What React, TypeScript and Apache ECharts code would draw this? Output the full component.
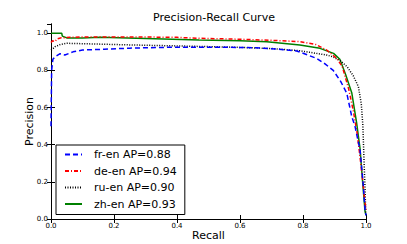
import React, { useEffect, useRef } from "react";
import * as echarts from "echarts";

const xTicks = [0, 0.2, 0.4, 0.6, 0.8, 1.0];
const yTicks = [0, 0.2, 0.4, 0.6, 0.8, 1.0];

const seriesNames = ["fr-en AP=0.88", "de-en AP=0.94", "ru-en AP=0.90", "zh-en AP=0.93"];

const frRecall = [0, 0.002, 0.006, 0.013, 0.029, 0.044, 0.07, 0.1, 0.17, 0.25, 0.35, 0.45, 0.55, 0.65, 0.72, 0.78, 0.843, 0.87, 0.896, 0.92, 0.939, 0.955, 0.965, 0.981, 0.991, 0.997, 1.0];
const frPrecision = [0.5, 0.8, 0.86, 0.874, 0.89, 0.883, 0.9, 0.91, 0.914, 0.92, 0.924, 0.925, 0.925, 0.922, 0.915, 0.905, 0.865, 0.835, 0.8, 0.74, 0.677, 0.55, 0.5, 0.372, 0.19, 0.05, 0.02];

const deRecall = [0, 0.005, 0.012, 0.02, 0.03, 0.06, 0.1, 0.2, 0.3, 0.4, 0.47, 0.6, 0.7, 0.79, 0.84, 0.875, 0.907, 0.925, 0.945, 0.96, 0.972, 0.982, 0.99, 0.996, 1.0];
const dePrecision = [0.95, 0.96, 0.955, 0.97, 0.975, 0.978, 0.98, 0.98, 0.98, 0.978, 0.973, 0.968, 0.962, 0.955, 0.94, 0.91, 0.865, 0.82, 0.7, 0.58, 0.46, 0.32, 0.2, 0.1, 0.05];

const ruRecall = [0, 0.005, 0.013, 0.03, 0.05, 0.1, 0.26, 0.4, 0.58, 0.7, 0.79, 0.875, 0.897, 0.92, 0.94, 0.96, 0.976, 0.985, 0.99, 0.994, 0.997, 0.999, 1.0];
const ruPrecision = [0.91, 0.915, 0.928, 0.94, 0.946, 0.944, 0.937, 0.932, 0.925, 0.918, 0.906, 0.883, 0.872, 0.85, 0.82, 0.77, 0.712, 0.62, 0.505, 0.3, 0.163, 0.04, 0.02];

const zhRecall = [0, 0.01, 0.034, 0.036, 0.05, 0.1, 0.156, 0.3, 0.47, 0.6, 0.685, 0.79, 0.854, 0.897, 0.917, 0.935, 0.955, 0.97, 0.981, 0.991, 0.997, 1.0];
const zhPrecision = [1.0, 1.0, 1.0, 0.985, 0.975, 0.975, 0.978, 0.972, 0.964, 0.96, 0.955, 0.937, 0.919, 0.892, 0.86, 0.78, 0.678, 0.52, 0.38, 0.163, 0.04, 0.02];

const colors = ["#0000ff", "#ff0000", "#000000", "#008000"];
const dashes: any[] = [[5, 3], [4, 2, 1, 2], [1, 1.5], "solid"];

function pairs(xs: number[], ys: number[]) {
  return xs.map((x, i) => [x, ys[i]]);
}

const datasets = [
  pairs(frRecall, frPrecision),
  pairs(deRecall, dePrecision),
  pairs(ruRecall, ruPrecision),
  pairs(zhRecall, zhPrecision),
];

const FONT = "DejaVu Sans";

export default function App() {
  const ref = useRef<HTMLDivElement>(null);
  useEffect(() => {
    if (!ref.current) return;
    const chart = echarts.init(ref.current, undefined, { renderer: "svg" });
    const tickAxis = {
      type: "value" as const,
      min: 0,
      interval: 0.2,
      axisLine: { show: true, lineStyle: { color: "#000", width: 1 } },
      axisTick: { show: true, inside: true, length: 4, lineStyle: { color: "#000" } },
      splitLine: { show: false },
    };
    chart.setOption({
      animation: false,
      backgroundColor: "#ffffff",
      title: {
        text: "Precision-Recall Curve",
        left: 209,
        top: 7,
        textAlign: "center",
        textStyle: { fontFamily: FONT, fontSize: 11, fontWeight: "normal", color: "#000" },
      },
      grid: {
        left: 51,
        top: 24,
        right: 41,
        bottom: 25,
        containLabel: false,
        outerBoundsMode: "none",
      },
      legend: {
        orient: "vertical",
        left: 56,
        top: 145,
        padding: [4, 8, 5, 8],
        itemGap: 5.5,
        itemWidth: 17,
        itemHeight: 11,
        backgroundColor: "#ffffff",
        borderColor: "#000",
        borderWidth: 1,
        borderRadius: 0,
        data: seriesNames,
        itemStyle: { opacity: 0, borderWidth: 0 },
        textStyle: { fontFamily: FONT, fontSize: 11, color: "#000", padding: [0, 0, 0, 7] },
      },
      xAxis: [
        {
          ...tickAxis,
          max: 1,
          position: "bottom",
          name: "Recall",
          nameLocation: "middle",
          nameGap: 11,
          nameMoveOverlap: false,
          nameTextStyle: { fontFamily: FONT, fontSize: 11, color: "#000" },
          axisLabel: {
            fontFamily: FONT,
            fontSize: 7,
            color: "#000",
            margin: 3,
            formatter: (v: number) => v.toFixed(1),
          },
        },
        {
          ...tickAxis,
          max: 1,
          position: "top",
          axisLabel: { show: false },
        },
      ],
      yAxis: [
        {
          ...tickAxis,
          max: 1.05,
          position: "left",
          name: "Precision",
          nameLocation: "middle",
          nameGap: 16,
          nameMoveOverlap: false,
          nameTextStyle: { fontFamily: FONT, fontSize: 11, color: "#000" },
          axisLabel: {
            fontFamily: FONT,
            fontSize: 7,
            color: "#000",
            margin: 3,
            showMaxLabel: false,
            formatter: (v: number) => v.toFixed(1),
          },
        },
        {
          ...tickAxis,
          max: 1.05,
          position: "right",
          axisLabel: { show: false },
        },
      ],
      series: datasets.map((d, i) => ({
        name: seriesNames[i],
        type: "line",
        data: d,
        showSymbol: false,
        symbol: "none",
        xAxisIndex: 0,
        yAxisIndex: 0,
        color: colors[i],
        lineStyle: { color: colors[i], width: 1.5, type: dashes[i] },
        z: 10 - i,
      })),
    });
    return () => chart.dispose();
  }, []);
  return (
    <div
      ref={ref}
      style={{ position: "fixed", left: 0, top: 0, width: 407, height: 244 }}
    />
  );
}
